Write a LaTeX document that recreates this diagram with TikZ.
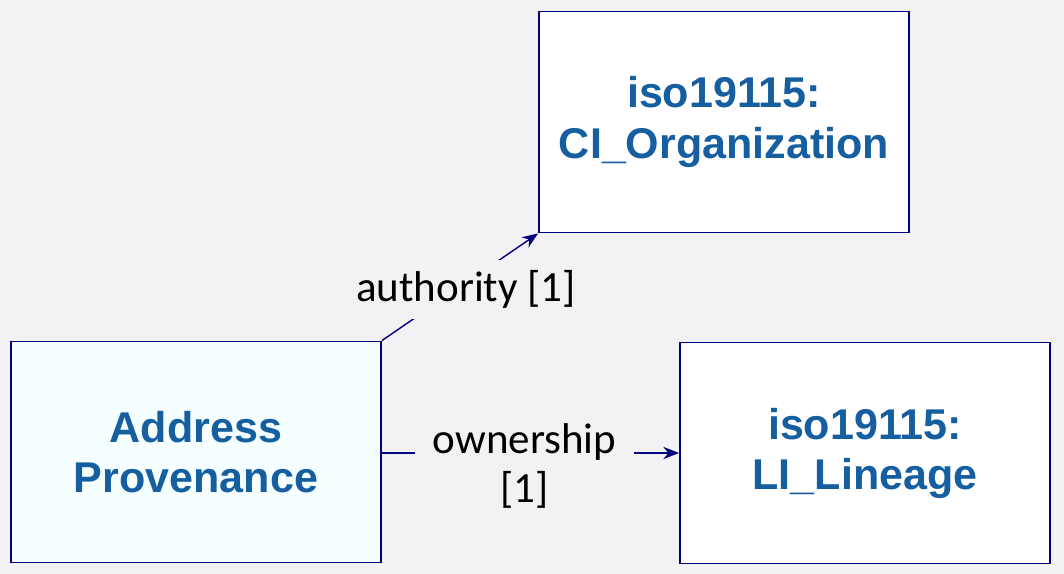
\documentclass[tikz,border=0pt]{standalone}
\usepackage{fontspec}
\setmainfont{Liberation Sans}
\newfontfamily\labelfont{Carlito}
\usetikzlibrary{arrows.meta}
\definecolor{bgray}{RGB}{242,242,244}
\definecolor{boxline}{RGB}{0,0,128}
\definecolor{boxtext}{RGB}{21,94,160}
\definecolor{provfill}{RGB}{245,255,255}
\tikzset{
    umlbox/.style={draw=boxline, line width=1.1pt, fill=white, minimum width=7.4cm,
        minimum height=4.42cm, align=center, text=boxtext,
        font=\fontsize{24.5}{28.5}\selectfont\bfseries},
    assoc/.style={draw=boxline, line width=0.8pt, -{Stealth[length=9pt, width=7pt]}},
    rolelbl/.style={fill=bgray, align=center, text=black, inner xsep=10pt, inner ysep=6pt,
        font=\labelfont\fontsize{24.5}{28}\selectfont}
}
\begin{document}
\begin{tikzpicture}[x=0.02cm, y=-0.02cm]
    \fill[bgray] (0,0) rectangle (1064,574);
    \useasboundingbox (0,0) rectangle (1064,574);
    % the three classes
    \node[umlbox, fill=provfill] (prov) at (196,452) {Address\\Provenance};
    \node[umlbox] (org) at (724,122) {iso19115:\\CI\_Organization};
    \node[umlbox] (lin) at (865,453) {iso19115:\\LI\_Lineage};
    % associations
    \draw[assoc] (prov.north east) -- node[rolelbl, xshift=0.12cm, yshift=-0.05cm] {authority [1]} (org.south west);
    \draw[assoc] (prov.east |- lin.west) -- node[rolelbl, pos=0.48, yshift=-0.26cm] {ownership\\{}[1]} (lin.west);
\end{tikzpicture}
\end{document}
